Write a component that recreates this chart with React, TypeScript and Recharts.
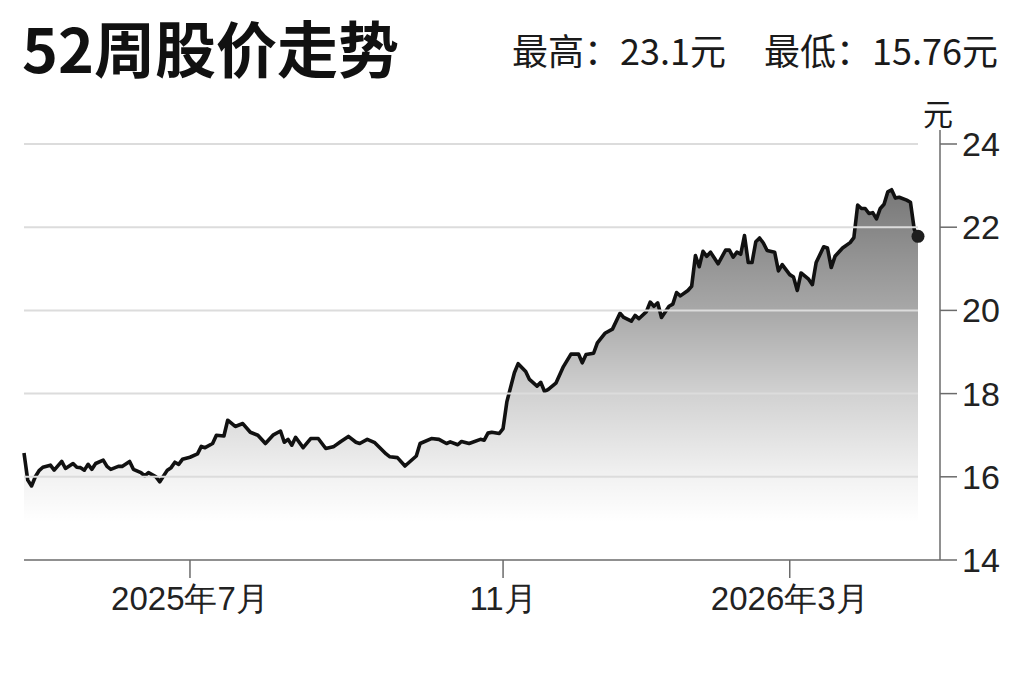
import React from 'react';
import { ComposedChart, Area, XAxis, YAxis, ReferenceLine } from 'recharts';

// trading-day index since the start of the 52-week window
const tradingDays = [
  0, 1, 2, 3, 4, 5, 7, 8, 10, 11, 13, 14, 15, 16, 17, 18, 19, 21, 22, 23,
  25, 26, 28, 29, 31, 32, 33, 35, 36, 38, 39, 40, 41, 42, 44, 46, 47, 48, 50, 51,
  53, 54, 56, 58, 60, 62, 64, 66, 68, 69, 70, 71, 72, 74, 76, 78, 80, 82, 84, 86,
  88, 89, 91, 93, 96, 97, 99, 101, 104, 105, 108, 110, 112, 113, 115, 116, 118, 121, 122, 123,
  124, 126, 127, 128, 130, 131, 133, 134, 136, 137, 138, 139, 141, 143, 145, 147, 148, 149, 151, 152,
  154, 156, 158, 159, 161, 162, 163, 165, 166, 167, 168, 169, 171, 172, 173, 174, 176, 177, 178, 179,
  180, 181, 182, 184, 186, 187, 188, 189, 190, 191, 192, 193, 194, 195, 196, 197, 199, 200, 201, 203,
  204, 205, 206, 208, 209, 210, 212, 213, 214, 215, 217, 219, 220, 221, 222, 223, 224, 225, 226, 227,
  228, 229, 230, 231, 232, 234, 235, 236, 237,
];

// closing price, 元
const closePrices = [
  16.57, 15.92, 15.78, 16.0, 16.15, 16.23, 16.28, 16.16, 16.37, 16.2, 16.32, 16.23, 16.22, 16.16, 16.3, 16.18, 16.32, 16.4, 16.25, 16.18,
  16.25, 16.25, 16.37, 16.18, 16.1, 16.02, 16.1, 16.0, 15.88, 16.16, 16.22, 16.35, 16.3, 16.42, 16.47, 16.55, 16.73, 16.7, 16.8, 17.0,
  16.98, 17.36, 17.21, 17.28, 17.07, 17.0, 16.8, 17.0, 17.1, 16.83, 16.9, 16.76, 16.95, 16.7, 16.92, 16.92, 16.68, 16.72, 16.85, 16.97,
  16.83, 16.8, 16.9, 16.82, 16.55, 16.48, 16.46, 16.26, 16.5, 16.8, 16.92, 16.9, 16.8, 16.84, 16.77, 16.85, 16.8, 16.9, 16.88, 17.05,
  17.07, 17.04, 17.16, 17.8, 18.5, 18.72, 18.53, 18.34, 18.18, 18.27, 18.05, 18.1, 18.25, 18.65, 18.95, 18.95, 18.74, 18.94, 18.97, 19.22,
  19.45, 19.55, 19.93, 19.83, 19.74, 19.88, 19.8, 19.97, 20.2, 20.1, 20.18, 19.83, 20.1, 20.15, 20.43, 20.35, 20.48, 20.58, 21.32, 21.05,
  21.42, 21.3, 21.4, 21.12, 21.45, 21.45, 21.28, 21.4, 21.35, 21.8, 21.15, 21.15, 21.65, 21.74, 21.62, 21.44, 21.4, 20.95, 21.1, 20.86,
  20.8, 20.48, 20.9, 20.75, 20.62, 21.15, 21.53, 21.5, 21.03, 21.3, 21.5, 21.63, 21.75, 22.53, 22.45, 22.45, 22.33, 22.35, 22.2, 22.45,
  22.55, 22.85, 22.9, 22.7, 22.72, 22.65, 22.6, 21.95, 21.78,
];

const monthTickDays = [44, 127, 203];
const monthTickLabels = ['2025年7月', '11月', '2026年3月'];
const priceTicks = [14, 16, 18, 20, 22, 24];
const gridPrices = [16, 18, 20, 22, 24];

const data = tradingDays.map((day, i) => ({ day, price: closePrices[i] }));
const lastDay = tradingDays[tradingDays.length - 1];
const lastIndex = data.length - 1;

const cjk = '"Noto Sans CJK SC", "Noto Sans", sans-serif';
const sans = '"Liberation Sans", Arial, sans-serif';

export default function App() {
  const renderDot = (props: any) => {
    if (props.index !== lastIndex) return <g key={`d-${props.index}`} />;
    return <circle key="last" cx={props.cx} cy={props.cy} r={6.5} fill="#1e1e1e" />;
  };

  return (
    <div style={{ position: 'absolute', left: 0, top: 0, width: 1023, height: 682, background: '#fff', overflow: 'hidden' }}>
      <div style={{ position: 'absolute', left: 22, top: 16, fontFamily: cjk, fontWeight: 700, fontSize: 61, lineHeight: '61px', color: '#111', whiteSpace: 'nowrap' }}>
        52周股价走势
      </div>
      <div style={{ position: 'absolute', right: 25, top: 26, fontFamily: cjk, fontSize: 36, lineHeight: '46px', color: '#1a1a1a', whiteSpace: 'nowrap', display: 'flex', gap: 38 }}>
        <span>最高：23.1元</span>
        <span>最低：15.76元</span>
      </div>
      <div style={{ position: 'absolute', left: 923, top: 96, fontFamily: cjk, fontSize: 30, lineHeight: '32px', color: '#1a1a1a' }}>
        元
      </div>

      <ComposedChart width={1023} height={682} data={data} margin={{ top: 130, right: 0, bottom: 62, left: 24 }}>
        <defs>
          <linearGradient id="priceFill" x1="0" y1="0" x2="0" y2="1">
            <stop offset="0%" stopColor="#000" stopOpacity={0.53} />
            <stop offset="33%" stopColor="#000" stopOpacity={0.34} />
            <stop offset="55%" stopColor="#000" stopOpacity={0.18} />
            <stop offset="78%" stopColor="#000" stopOpacity={0.05} />
            <stop offset="90%" stopColor="#000" stopOpacity={0} />
          </linearGradient>
        </defs>
        {gridPrices.map((p) => (
          <ReferenceLine
            key={p}
            segment={[{ x: 0, y: p }, { x: lastDay, y: p }]}
            stroke="#dcdcdc"
            strokeWidth={2}
          />
        ))}
        <XAxis
          dataKey="day"
          type="number"
          domain={[0, lastDay]}
          ticks={monthTickDays}
          tickFormatter={(v) => monthTickLabels[monthTickDays.indexOf(v)]}
          padding={{ left: 0, right: 22 }}
          height={60}
          tickSize={18}
          tickMargin={9}
          stroke="#6b6b6b"
          strokeWidth={1.5}
          tick={{ fontFamily: sans, fontSize: 33, fill: '#222' }}
        />
        <YAxis
          orientation="right"
          type="number"
          domain={[14, 24]}
          ticks={priceTicks}
          padding={{ top: 14, bottom: 0 }}
          width={83}
          tickSize={17}
          tickMargin={5}
          stroke="#6b6b6b"
          strokeWidth={1.5}
          tick={{ fontFamily: sans, fontSize: 34, fill: '#222' }}
        />
        <Area
          type="linear"
          dataKey="price"
          stroke="#111"
          strokeWidth={3.6}
          strokeLinejoin="round"
          fill="url(#priceFill)"
          fillOpacity={1}
          dot={renderDot}
          activeDot={false}
          isAnimationActive={false}
        />
      </ComposedChart>
    </div>
  );
}
